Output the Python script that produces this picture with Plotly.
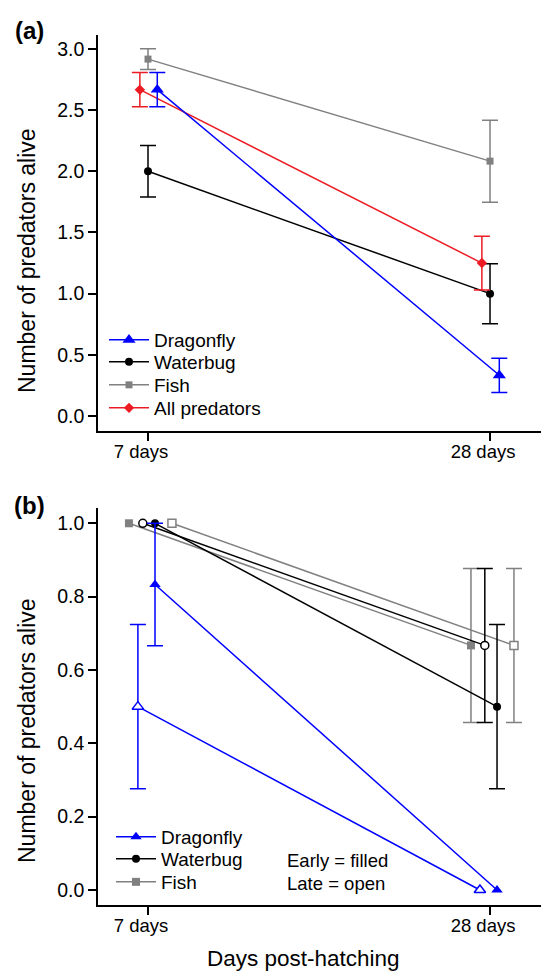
import plotly.graph_objects as go

# ---------------- data ----------------
days = ["7 days", "28 days"]
day_num = [7, 28]

# Panel (a): mean and SE of number of predators alive
a_dragonfly = [2.667, 0.333]
a_dragonfly_se = [0.14, 0.14]
a_waterbug = [2.0, 1.0]
a_waterbug_se = [0.21, 0.245]
a_fish = [2.917, 2.083]
a_fish_se = [0.085, 0.335]
a_all = [2.667, 1.25]
a_all_se = [0.14, 0.22]

# Panel (b): proportion alive, early (filled) vs late (open) hatching
b_drag_early = [0.833, 0.0]
b_drag_early_se = [0.167, 0.0]
b_drag_late = [0.5, 0.0]
b_drag_late_se = [0.224, 0.0]
b_wb_early = [1.0, 0.5]
b_wb_early_se = [0.0, 0.224]
b_wb_late = [1.0, 0.667]
b_wb_late_se = [0.0, 0.21]
b_fish_early = [1.0, 0.667]
b_fish_early_se = [0.0, 0.21]
b_fish_late = [1.0, 0.667]
b_fish_late_se = [0.0, 0.21]

a_yticks = [0.0, 0.5, 1.0, 1.5, 2.0, 2.5, 3.0]
b_yticks = [0.0, 0.2, 0.4, 0.6, 0.8, 1.0]

# ---------------- styling ----------------
W, H = 541, 973
PL, PR, PT, PB = 98, 541, 35, 905  # plot area in px
FONT = "Liberation Sans, Arial, Helvetica, sans-serif"
BLUE = "#0000FF"
BLACK = "#000000"
GRAY = "#808080"
RED = "#EC1C24"
TICKF = 18.5
YTICKF = 19.5
LEGF = 19

def px_x(px):
    return (px - PL) / (PR - PL)

def px_y(py):
    return (PB - py) / (PB - PT)

fig = go.Figure()

def add_series(y, se, dx, color, symbol, size, name, xa, ya, legend=None,
               fill=None, showlegend=False):
    xs = [d + dx for d in day_num]
    # error bars only where SE > 0
    ex = [x for x, s in zip(xs, se) if s > 0]
    ey = [v for v, s in zip(y, se) if s > 0]
    es = [s for s in se if s > 0]
    if es:
        fig.add_trace(go.Scatter(
            x=ex, y=ey, mode="markers", xaxis=xa, yaxis=ya,
            marker=dict(size=1, color="rgba(0,0,0,0)"),
            error_y=dict(type="data", array=es, visible=True, color=color,
                         thickness=1.5, width=8),
            showlegend=False, hoverinfo="skip"))
    mk = dict(symbol=symbol, size=size, color=fill if fill else color,
              line=dict(color=color, width=1.5 if fill else 0))
    kw = dict(x=xs, y=y, mode="lines+markers", xaxis=xa, yaxis=ya, name=name,
              line=dict(color=color, width=1.5), marker=mk,
              showlegend=showlegend)
    if legend:
        kw["legend"] = legend
    fig.add_trace(go.Scatter(**kw))

# Panel (a)
add_series(a_fish, a_fish_se, 0.0, GRAY, "square", 7, "Fish", "x", "y", "legend3", showlegend=True)
add_series(a_waterbug, a_waterbug_se, 0.0, BLACK, "circle", 8, "Waterbug", "x", "y", "legend2", showlegend=True)
add_series(a_all, a_all_se, -0.5, RED, "diamond", 8, "All predators", "x", "y", "legend4", showlegend=True)
add_series(a_dragonfly, a_dragonfly_se, 0.57, BLUE, "triangle-up", 11.5, "Dragonfly", "x", "y", "legend", showlegend=True)

# Panel (b)
add_series(b_fish_early, b_fish_early_se, -1.17, GRAY, "square", 8, "Fish", "x2", "y2", "legend7", showlegend=True)
add_series(b_fish_late, b_fish_late_se, 1.47, GRAY, "square", 8, "Fish late", "x2", "y2", fill="white")
add_series(b_wb_late, b_wb_late_se, -0.32, BLACK, "circle", 8, "Waterbug late", "x2", "y2", fill="white")
add_series(b_wb_early, b_wb_early_se, 0.43, BLACK, "circle", 8, "Waterbug", "x2", "y2", "legend6", showlegend=True)
add_series(b_drag_late, b_drag_late_se, -0.62, BLUE, "triangle-up", 10, "Dragonfly late", "x2", "y2", fill="white")
add_series(b_drag_early, b_drag_early_se, 0.43, BLUE, "triangle-up", 10, "Dragonfly", "x2", "y2", "legend5", showlegend=True)

xr = [3.93, 31.13]
common_x = dict(range=xr, tickmode="array", tickvals=day_num, ticktext=days,
                showline=True, linecolor="black", linewidth=1.5, ticks="outside",
                ticklen=8, tickwidth=1.5, tickcolor="black", showgrid=False,
                zeroline=False, tickfont=dict(size=TICKF, color="black", family=FONT),
                mirror=False, ticklabelstandoff=-5, ticklabelshift=-7)
common_y = dict(showline=True, linecolor="black", linewidth=1.5, ticks="outside",
                ticklen=8, tickwidth=1.5, tickcolor="black", showgrid=False,
                zeroline=False, tickfont=dict(size=YTICKF, color="black", family=FONT),
                tickformat=".1f", tickmode="array")

fig.update_layout(
    xaxis=dict(common_x, domain=[0, 1], anchor="y"),
    yaxis=dict(common_y, domain=[px_y(431), 1], anchor="x",
               range=[-0.1226, 3.114], tickvals=a_yticks),
    xaxis2=dict(common_x, domain=[0, 1], anchor="y2"),
    yaxis2=dict(common_y, domain=[0, px_y(508)], anchor="x2",
                range=[-0.041, 1.0417], tickvals=b_yticks),
)

def leg(x, y):
    return dict(x=x / W, y=1 - y / H, xref="container", yref="container",
                xanchor="left", yanchor="middle", bgcolor="rgba(0,0,0,0)",
                borderwidth=0, font=dict(size=LEGF, color="black", family=FONT),
                itemwidth=40)

fig.update_layout(
    legend=leg(104, 340), legend2=leg(104, 362), legend3=leg(104, 385),
    legend4=leg(104, 408),
    legend5=leg(111, 837), legend6=leg(111, 859), legend7=leg(111, 882),
)

def note(text, x, y, size, angle=0, xanchor="center"):
    return dict(text=text, x=px_x(x), y=px_y(y), xref="paper", yref="paper",
                showarrow=False, textangle=angle, xanchor=xanchor,
                yanchor="middle", borderpad=0,
                font=dict(size=size, family=FONT, color="black"))

ann = [
    note("<b>(a)</b>", 29, 31, 24),
    note("<b>(b)</b>", 29, 505, 24),
    note("Number of predators alive", 27, 261, 23, angle=-90),
    note("Number of predators alive", 27, 731, 23, angle=-90),
    note("Days post-hatching", 303, 958, 22.5),
    note("Early = filled", 286, 860, TICKF, xanchor="left"),
    note("Late = open", 286, 883, TICKF, xanchor="left"),
]

fig.update_layout(
    annotations=ann,
    width=W, height=H,
    margin=dict(l=PL, r=W - PR, t=PT, b=H - PB, pad=0, autoexpand=False),
    paper_bgcolor="white", plot_bgcolor="white",
    font=dict(family=FONT, color="black"),
)

fig.write_html("out.html", config={"displayModeBar": False},
               post_script="document.body.style.margin='0px';document.body.style.padding='0px';")
